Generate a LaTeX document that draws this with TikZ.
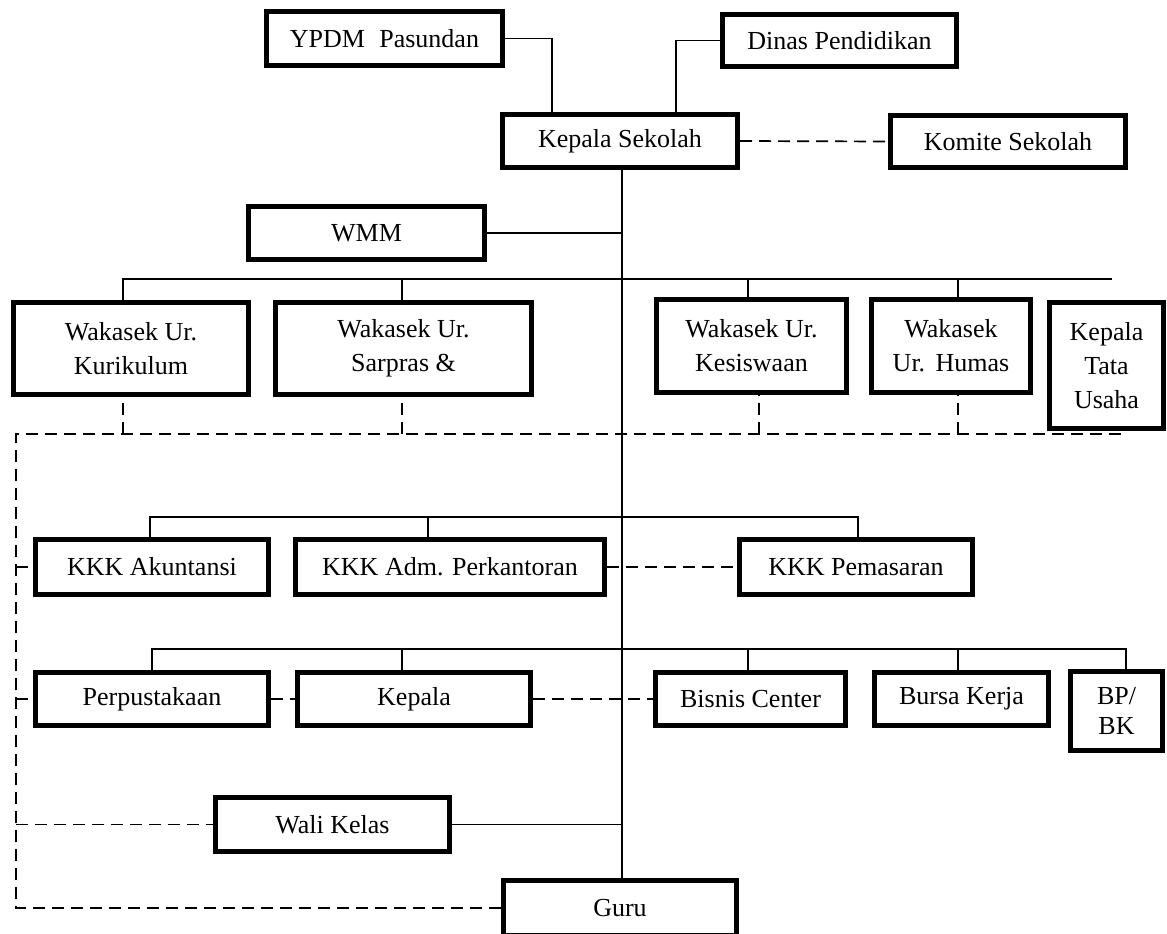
\documentclass[tikz,border=0pt]{standalone}
\usepackage{fontspec}
\setmainfont{Liberation Serif}
\begin{document}
\begin{tikzpicture}[x=1pt,y=-1pt]
\tikzset{
 box/.style={draw, line width=5.3pt, fill=white, inner sep=0pt, align=center, font=\fontsize{26}{34}\selectfont},
 conn/.style={line width=1.7pt},
 dconn/.style={line width=1.7pt, dash pattern=on 12pt off 7pt},
}
\useasboundingbox (0,0) rectangle (1167,934);
\clip (0,0) rectangle (1167,934);
% nodes
\node[box, minimum width=235.7pt, minimum height=53.7pt] (ypdm) at (384.5,38.5) {YPDM\hspace{0.55em}Pasundan};
\node[box, minimum width=233.7pt, minimum height=51.7pt] (dinas) at (839.5,40.5) {Dinas Pendidikan};
\node[box, minimum width=234.7pt, minimum height=52.7pt] (ks) at (620,141) {Kepala Sekolah};
\node[box, minimum width=234.7pt, minimum height=51.7pt] (komite) at (1008,141.5) {Komite Sekolah};
\node[box, minimum width=235.7pt, minimum height=52.7pt] (wmm) at (366.5,233) {WMM};
\node[box, minimum width=234.7pt, minimum height=91.7pt] (wk1) at (131,348.5) {Wakasek Ur.\\Kurikulum};
\node[box, minimum width=255.7pt, minimum height=91.7pt] (wk2) at (403.5,348.5) {Wakasek Ur.\\Sarpras \&};
\node[box, minimum width=189.7pt, minimum height=92.7pt] (wk3) at (751.5,346) {Wakasek Ur.\\Kesiswaan};
\node[box, minimum width=158.7pt, minimum height=92.7pt] (wk4) at (951,346) {Wakasek\\Ur.\hspace{0.4em}Humas};
\node[box, minimum width=113.7pt, minimum height=125.7pt] (tu) at (1106.5,365.5) {Kepala\\Tata\\Usaha};
\node[box, minimum width=232.7pt, minimum height=54.7pt] (kkk1) at (152,567) {KKK Akuntansi};
\node[box, minimum width=308.7pt, minimum height=54.7pt] (kkk2) at (450,567) {KKK Adm. Perkantoran};
\node[box, minimum width=232.7pt, minimum height=54.7pt] (kkk3) at (856,567) {KKK Pemasaran};
\node[box, minimum width=232.7pt, minimum height=52.7pt] (perp) at (152,699) {Perpustakaan};
\node[box, minimum width=232.7pt, minimum height=52.7pt] (kepala) at (414,699) {Kepala};
\node[box, minimum width=189.7pt, minimum height=52.7pt] (bisnis) at (750.5,699) {Bisnis Center};
\node[box, minimum width=173.7pt, minimum height=52.7pt] (bursa) at (961.5,699) {Bursa Kerja};
\node[box, minimum width=91.7pt, minimum height=78.7pt, font=\fontsize{26}{30}\selectfont] (bpbk) at (1116.5,711) {BP/\\BK};
\node[box, minimum width=233.7pt, minimum height=53.7pt] (wali) at (332.5,824.5) {Wali Kelas};
\node[box, minimum width=232.7pt, minimum height=55pt] (guru) at (620,908) {Guru};
% top connectors
\draw[conn] (ypdm.east) -| ([xshift=-68pt]ks.north);
\draw[conn] (dinas.west) -| ([xshift=56pt]ks.north);
\draw[dconn] (ks.east) -- (komite.west);
\draw[conn] ([xshift=2pt]ks.south) -- ([xshift=2pt]guru.north);
\coordinate (cx) at (622,0);
\draw[conn] (wmm.east) -- (wmm.east -| cx);
% first bus
\coordinate (b1w) at (123,279);
\coordinate (b1e) at (1112,279);
\coordinate (b1b) at (402,279);
\coordinate (b1c) at (748,279);
\coordinate (b1d) at (958,279);
\draw[conn] (b1w |- wk1.north) -- (b1w) -- (b1e);
\draw[conn] (b1b) -- (b1b |- wk2.north);
\draw[conn] (b1c) -- (b1c |- wk3.north);
\draw[conn] (b1d) -- (b1d |- wk4.north);
% dashed coordination line
\coordinate (d1w) at (16,434);
\coordinate (d1e) at (1126,434);
\coordinate (d1a) at (123,434);
\coordinate (d1b) at (402,434);
\coordinate (d1c) at (759,434);
\coordinate (d1d) at (958,434);
\draw[dconn] (guru.west) -| (d1w) -- (d1e);
\draw[dconn] (d1a) -- (d1a |- wk1.south);
\draw[dconn] (d1b) -- (d1b |- wk2.south);
\draw[dconn] (d1c) -- (d1c |- wk3.south);
\draw[dconn] (d1d) -- (d1d |- wk4.south);
\draw[dconn] (d1w |- kkk1.west) -- (kkk1.west);
\draw[dconn] (d1w |- perp.west) -- (perp.west);
\draw[dconn] (d1w |- wali.west) -- (wali.west);
% KKK bus
\coordinate (b2w) at (150,517);
\coordinate (b2e) at (858,517);
\coordinate (b2b) at (428,517);
\draw[conn] (b2w |- kkk1.north) -- (b2w) -- (b2e) -- (b2e |- kkk3.north);
\draw[conn] (b2b) -- (b2b |- kkk2.north);
\draw[dconn] (kkk2.east) -- (kkk3.west);
% third bus
\coordinate (b3w) at (152,649);
\coordinate (b3e) at (1126,649);
\coordinate (b3b) at (402,649);
\coordinate (b3c) at (748,649);
\coordinate (b3d) at (958,649);
\draw[conn] (b3w |- perp.north) -- (b3w) -- (b3e) -- (b3e |- bpbk.north);
\draw[conn] (b3b) -- (b3b |- kepala.north);
\draw[conn] (b3c) -- (b3c |- bisnis.north);
\draw[conn] (b3d) -- (b3d |- bursa.north);
\draw[dconn] (perp.east) -- (kepala.west);
\draw[dconn] (kepala.east) -- (bisnis.west);
% wali kelas
\draw[conn] (wali.east) -- (wali.east -| cx);
\end{tikzpicture}
\end{document}
